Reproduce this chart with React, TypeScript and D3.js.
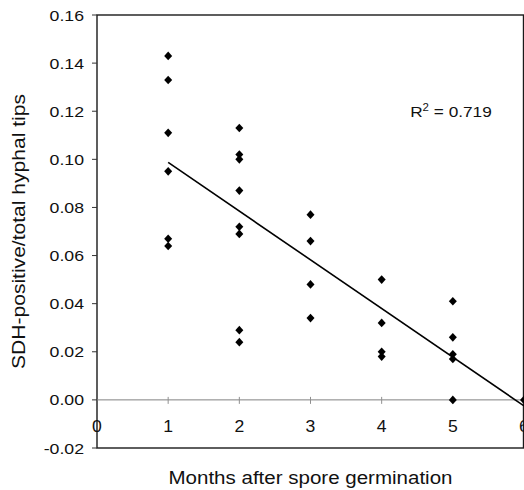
import React, { useEffect, useRef } from "react";
import * as d3 from "d3";

// values
const pointMonths = [
  1, 1, 1, 1, 1, 1,
  2, 2, 2, 2, 2, 2, 2, 2,
  3, 3, 3, 3,
  4, 4, 4, 4,
  5, 5, 5, 5, 5,
  6,
];
const pointValues = [
  0.143, 0.133, 0.111, 0.095, 0.067, 0.064,
  0.113, 0.102, 0.1, 0.087, 0.072, 0.069, 0.029, 0.024,
  0.077, 0.066, 0.048, 0.034,
  0.05, 0.032, 0.02, 0.018,
  0.041, 0.026, 0.019, 0.017, 0.0,
  0.0,
];
const trendMonths = [1, 6];
const trendValues = [0.0987, -0.0025];

const yTicks = [-0.02, 0, 0.02, 0.04, 0.06, 0.08, 0.1, 0.12, 0.14, 0.16];
const xTicks = [0, 1, 2, 3, 4, 5, 6];
const xTitle = "Months after spore germination";
const yTitle = "SDH-positive/total hyphal tips";
const rSquared = "0.719";

const FONT = "'Liberation Sans', Arial, sans-serif";

const drawChart = (svgEl: SVGSVGElement) => {
  const width = 524;
  const height = 490;
  const svg = d3.select(svgEl);
  svg.selectAll("*").remove();

  // plot box in pixels
  const left = 97;
  const right = 524;
  const top = 15;
  const bottom = 448;

  const x = d3.scaleLinear().domain([0, 6]).range([left, right]);
  const y = d3.scaleLinear().domain([-0.02, 0.16]).range([bottom, top]);

  svg.attr("width", width).attr("height", height);

  // frame
  svg
    .append("rect")
    .attr("x", left)
    .attr("y", top)
    .attr("width", right - left - 0.5)
    .attr("height", bottom - top)
    .attr("fill", "none")
    .attr("stroke", "#1a1a1a")
    .attr("stroke-width", 1.4);

  // zero line
  svg
    .append("line")
    .attr("x1", left)
    .attr("x2", right)
    .attr("y1", y(0))
    .attr("y2", y(0))
    .attr("stroke", "#808080")
    .attr("stroke-width", 1);

  // x ticks sit on the zero line
  svg
    .selectAll("line.xtick")
    .data(xTicks.slice(1))
    .enter()
    .append("line")
    .attr("class", "xtick")
    .attr("x1", (d) => x(d))
    .attr("x2", (d) => x(d))
    .attr("y1", y(0) - 3)
    .attr("y2", y(0) + 4)
    .attr("stroke", "#909090")
    .attr("stroke-width", 1);

  // y ticks
  svg
    .selectAll("line.ytick")
    .data(yTicks)
    .enter()
    .append("line")
    .attr("class", "ytick")
    .attr("x1", left - 5)
    .attr("x2", left)
    .attr("y1", (d) => y(d))
    .attr("y2", (d) => y(d))
    .attr("stroke", "#333")
    .attr("stroke-width", 1);

  // y tick labels (the scan font is a bit wider than Arial), plain hyphen for minus
  const fmt = (d: number) => d.toFixed(2);
  svg
    .selectAll("text.ylab")
    .data(yTicks)
    .enter()
    .append("text")
    .attr("class", "ylab")
    .attr("transform", (d) => `translate(${left - 13}, ${y(d) + 5.5}) scale(1.18, 1)`)
    .attr("text-anchor", "end")
    .style("font-family", FONT)
    .style("font-size", "15px")
    .attr("fill", "#111")
    .text((d) => fmt(d));

  // x tick labels, drawn inside the plot below the zero line
  svg
    .selectAll("text.xlab")
    .data(xTicks)
    .enter()
    .append("text")
    .attr("class", "xlab")
    .attr("transform", (d) => `translate(${x(d)}, ${y(0) + 32}) scale(1.1, 1)`)
    .attr("text-anchor", "middle")
    .style("font-family", FONT)
    .style("font-size", "16px")
    .attr("fill", "#111")
    .text((d) => d);

  // regression line
  const line = d3
    .line<number>()
    .x((d) => x(d))
    .y((_, i) => y(trendValues[i]));
  svg
    .append("path")
    .attr("d", line(trendMonths))
    .attr("fill", "none")
    .attr("stroke", "#000")
    .attr("stroke-width", 1.6);

  // diamond markers
  const diamond = (cx: number, cy: number) => {
    const p = d3.path();
    p.moveTo(cx, cy - 4.3);
    p.lineTo(cx + 4, cy);
    p.lineTo(cx, cy + 4.3);
    p.lineTo(cx - 4, cy);
    p.closePath();
    return p.toString();
  };
  svg
    .selectAll("path.pt")
    .data(pointValues)
    .enter()
    .append("path")
    .attr("class", "pt")
    .attr("d", (d, i) => diamond(x(pointMonths[i]), y(d)))
    .attr("fill", "#000");

  // R squared annotation
  const r2 = svg
    .append("text")
    .attr("transform", `translate(${x(4.4)}, ${y(0.1175)}) scale(1.15, 1)`)
    .style("font-family", FONT)
    .style("font-size", "15px")
    .attr("fill", "#111");
  r2.append("tspan").text("R");
  r2.append("tspan").attr("dy", -6).style("font-size", "10px").text("2");
  r2.append("tspan").attr("dy", 6).text(` = ${rSquared}`);

  // axis titles
  svg
    .append("text")
    .attr("x", (left + right) / 2)
    .attr("y", 484)
    .attr("text-anchor", "middle")
    .attr("textLength", 284)
    .attr("lengthAdjust", "spacingAndGlyphs")
    .style("font-family", FONT)
    .style("font-size", "17.5px")
    .attr("fill", "#111")
    .text(xTitle);

  svg
    .append("text")
    .attr("transform", `translate(25, ${(top + bottom) / 2}) rotate(-90)`)
    .attr("text-anchor", "middle")
    .attr("textLength", 275)
    .attr("lengthAdjust", "spacingAndGlyphs")
    .style("font-family", FONT)
    .style("font-size", "18px")
    .attr("fill", "#111")
    .text(yTitle);
};

const App = () => {
  const svgRef = useRef<SVGSVGElement>(null);

  useEffect(() => {
    if (svgRef.current) drawChart(svgRef.current);
  }, []);

  return (
    <svg
      ref={svgRef}
      width="524"
      height="490"
      style={{ position: "absolute", left: 0, top: 0, background: "#fff" }}
    ></svg>
  );
};

export default App;
